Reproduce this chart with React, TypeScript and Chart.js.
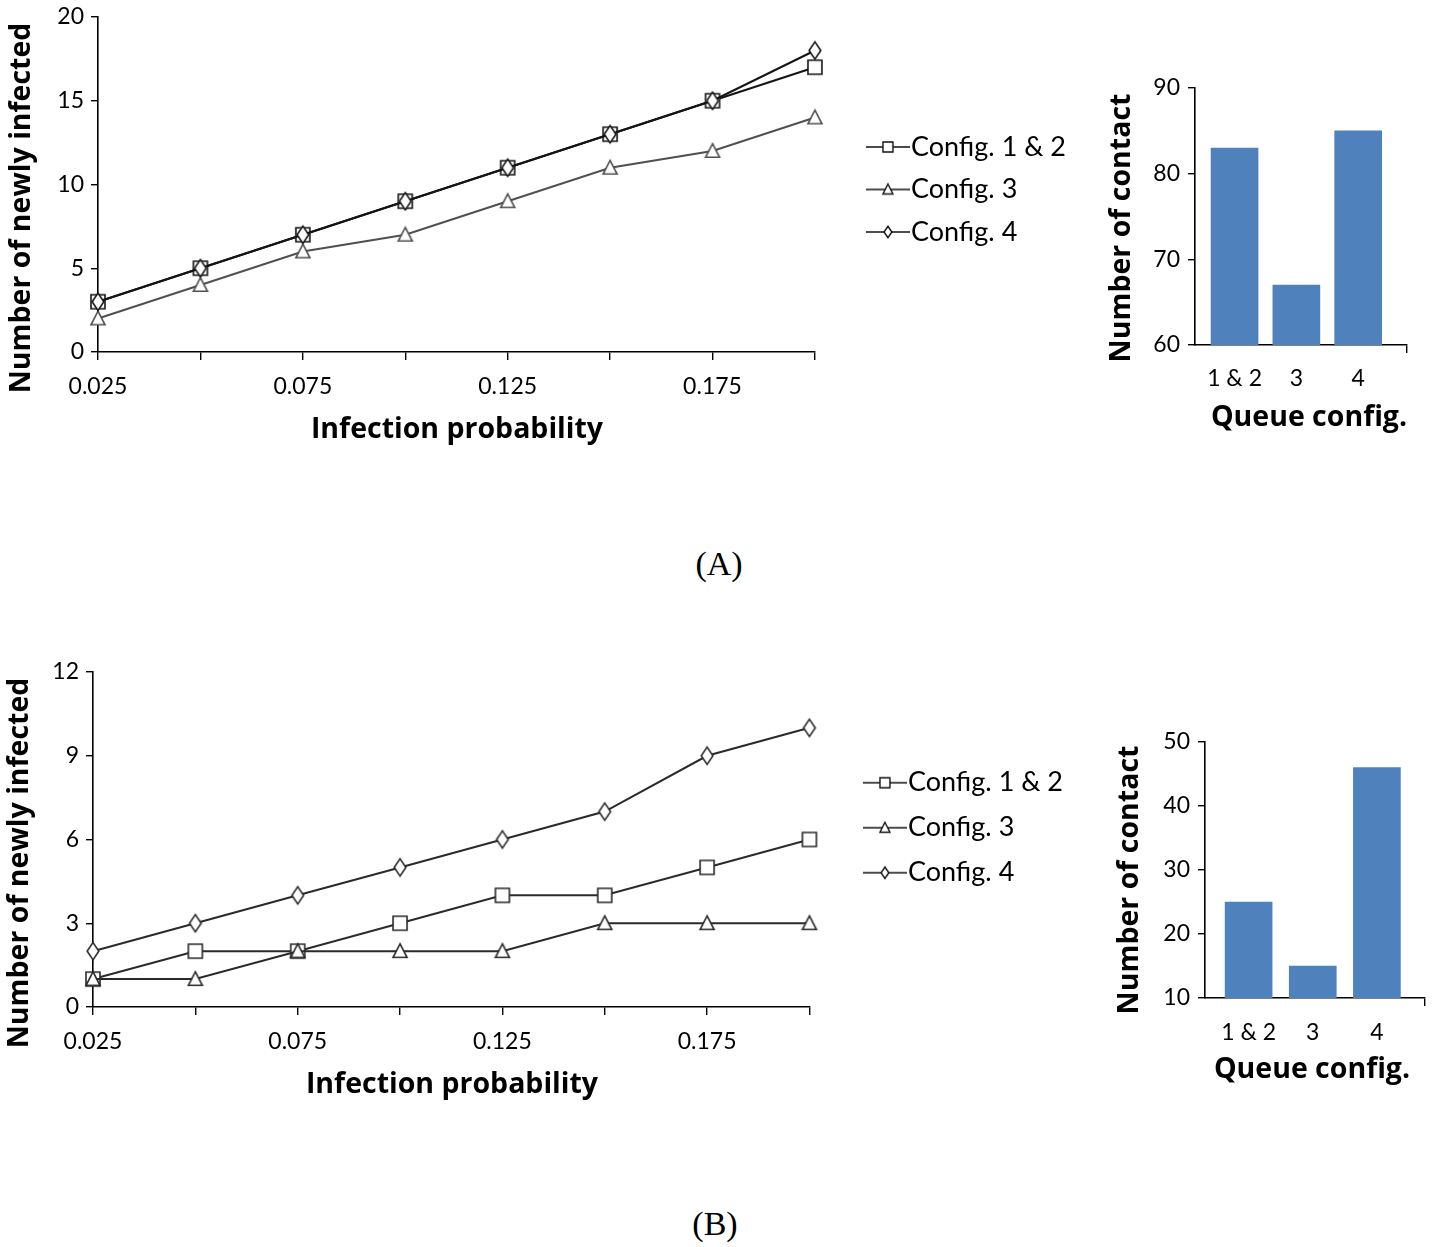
import React, { useEffect, useRef } from 'react';
import { Chart, registerables } from 'chart.js';

Chart.register(...registerables);

// ---------- data ----------
const probabilities = ['0.025', '0.05', '0.075', '0.1', '0.125', '0.15', '0.175', '0.2'];
const seriesNames = ['Config. 1 & 2', 'Config. 3', 'Config. 4'];

const aConfig12 = [3, 5, 7, 9, 11, 13, 15, 17];
const aConfig3 = [2, 4, 6, 7, 9, 11, 12, 14];
const aConfig4 = [3, 5, 7, 9, 11, 13, 15, 18];

const bConfig12 = [1, 2, 2, 3, 4, 4, 5, 6];
const bConfig3 = [1, 1, 2, 2, 2, 3, 3, 3];
const bConfig4 = [2, 3, 4, 5, 6, 7, 9, 10];

const queueConfigs = ['1 & 2', '3', '4'];
const aContacts = [83, 67, 85];
const bContacts = [25, 15, 46];

const yTitleLine = 'Number of newly infected';
const xTitleLine = 'Infection probability';
const yTitleBar = 'Number of contact';
const xTitleBar = 'Queue config.';

// ---------- helpers ----------
type Kind = 'square' | 'triangle' | 'diamond';
const seriesKinds: Kind[] = ['square', 'triangle', 'diamond'];

function drawShape(ctx: CanvasRenderingContext2D, kind: Kind, cx: number, cy: number, s: number, color: string, lw: number) {
  ctx.beginPath();
  if (kind === 'square') {
    ctx.rect(cx - s / 2, cy - s / 2, s, s);
  } else if (kind === 'triangle') {
    const h = s * 0.9;
    ctx.moveTo(cx, cy - h / 2 - 1);
    ctx.lineTo(cx + s / 2, cy + h / 2);
    ctx.lineTo(cx - s / 2, cy + h / 2);
    ctx.closePath();
  } else {
    const w = s * 0.78;
    const h = s * 1.15;
    ctx.moveTo(cx, cy - h / 2);
    ctx.lineTo(cx + w / 2, cy);
    ctx.lineTo(cx, cy + h / 2);
    ctx.lineTo(cx - w / 2, cy);
    ctx.closePath();
  }
  ctx.fillStyle = '#ffffff';
  ctx.fill();
  ctx.strokeStyle = color;
  ctx.lineWidth = lw;
  ctx.stroke();
}

function pointImage(kind: Kind, color: string, s: number) {
  const c = document.createElement('canvas');
  c.width = 24;
  c.height = 24;
  drawShape(c.getContext('2d')!, kind, 12, 12, s, color, 1.6);
  return c;
}

function legendImage(kind: Kind, color: string) {
  const c = document.createElement('canvas');
  c.width = 92;
  c.height = 20;
  const ctx = c.getContext('2d')!;
  ctx.strokeStyle = color;
  ctx.lineWidth = 1.6;
  ctx.beginPath();
  ctx.moveTo(48, 10);
  ctx.lineTo(92, 10);
  ctx.stroke();
  drawShape(ctx, kind, 70, 10, 10, color, 1.4);
  return c;
}

type FreeTitle = { text: string; x: number; y: number; rotate?: boolean; font: string };

function titlePlugin(items: FreeTitle[]) {
  return {
    id: 'freeTitles',
    afterDraw(chart: any) {
      const ctx: CanvasRenderingContext2D = chart.ctx;
      for (const t of items) {
        ctx.save();
        ctx.font = t.font;
        ctx.fillStyle = '#000';
        ctx.textAlign = 'center';
        ctx.textBaseline = 'middle';
        ctx.translate(t.x, t.y);
        if (t.rotate) ctx.rotate(-Math.PI / 2);
        ctx.fillText(t.text, 0, 0);
        ctx.restore();
      }
    },
  };
}

const TICK_FONT = { family: 'Lato', size: 23 };
const TITLE_FONT = 'bold 28.5px "Open Sans"';
const LEGEND_SIZE = 27;
const LEGEND_BOX = 67;

// width Chart.js' legend will want for one column of items
function legendNaturalWidth(padding: number) {
  const ctx = document.createElement('canvas').getContext('2d')!;
  ctx.font = `${LEGEND_SIZE}px Lato`;
  const textW = Math.max(...seriesNames.map((n) => ctx.measureText(n).width));
  return padding + LEGEND_BOX + LEGEND_SIZE / 2 + textW + 10;
}

const noPad = (s: any) => {
  s.paddingTop = 0;
  s.paddingBottom = 0;
  s.paddingLeft = 0;
  s.paddingRight = 0;
};

type LineParams = {
  series: number[][];
  colors: string[];
  yMax: number;
  yStep: number;
  canvasW: number;
  plotRight: number;
  padTop: number;
  xHeight: number;
  yWidth: number;
  xTickPad: number;
  legendTitlePad: number;
  legendPad: number;
  titles: FreeTitle[];
};

function buildLine(canvas: HTMLCanvasElement, p: LineParams) {
  const icons = seriesKinds.map((k) => legendImage(k, '#111'));
  const markerSizes = [14, 14, 15];
  const legendW = Math.ceil(legendNaturalWidth(p.legendPad)) + 1;
  const padRight = p.canvasW - p.plotRight - legendW;
  return new Chart(canvas, {
    type: 'line',
    data: {
      labels: probabilities,
      datasets: p.series.map((d, i) => ({
        label: seriesNames[i],
        data: d,
        order: 2 - i,
        borderColor: p.colors[i],
        backgroundColor: p.colors[i],
        borderWidth: 2,
        fill: false,
        tension: 0,
        pointStyle: pointImage(seriesKinds[i], p.colors[i], markerSizes[i]) as any,
        pointRadius: 7,
        clip: false as any,
      })),
    },
    options: {
      responsive: false,
      animation: false,
      events: [],
      layout: { padding: { left: 0, top: p.padTop, right: padRight, bottom: 0 } },
      plugins: {
        tooltip: { enabled: false },
        legend: {
          position: 'right',
          align: 'start',
          fullSize: false,
          maxWidth: legendW,
          title: { display: true, text: '', font: { size: 1 }, padding: { top: p.legendTitlePad, bottom: 0 } },
          labels: {
            usePointStyle: true,
            pointStyleWidth: LEGEND_BOX,
            padding: p.legendPad,
            color: '#000',
            font: { family: 'Lato', size: LEGEND_SIZE },
            generateLabels: (chart: any) =>
              chart.data.datasets.map((ds: any, i: number) => ({
                text: ds.label,
                pointStyle: icons[i],
                fillStyle: '#fff',
                strokeStyle: '#000',
                lineWidth: 1,
                hidden: false,
                datasetIndex: i,
                fontColor: '#000',
              })),
          },
        } as any,
      },
      scales: {
        x: {
          type: 'category',
          offset: false,
          afterFit: (s: any) => {
            s.height = p.xHeight;
            noPad(s);
          },
          border: { display: true, color: '#000', width: 1.6 },
          grid: { drawOnChartArea: false, drawTicks: true, tickLength: 8, color: '#000', lineWidth: 1.4 },
          ticks: {
            autoSkip: false,
            maxRotation: 0,
            minRotation: 0,
            padding: p.xTickPad,
            color: '#000',
            font: TICK_FONT,
            callback: (_v: any, i: number) => (i % 2 === 0 ? probabilities[i] : ''),
          },
        },
        y: {
          min: 0,
          max: p.yMax,
          afterFit: (s: any) => {
            s.width = p.yWidth;
            noPad(s);
          },
          border: { display: true, color: '#000', width: 1.6 },
          grid: { drawOnChartArea: false, drawTicks: true, tickLength: 7, color: '#000', lineWidth: 1.4 },
          ticks: { stepSize: p.yStep, padding: 7, color: '#000', font: TICK_FONT },
        },
      },
    } as any,
    plugins: [titlePlugin(p.titles)],
  });
}

type BarParams = {
  values: number[];
  yMin: number;
  yMax: number;
  xMin: number;
  xMax: number;
  padTop: number;
  padRight: number;
  xHeight: number;
  yWidth: number;
  barThickness: number;
  xTickPad: number;
  titles: FreeTitle[];
};

function buildBar(canvas: HTMLCanvasElement, p: BarParams) {
  return new Chart(canvas, {
    type: 'bar',
    data: {
      datasets: [
        {
          data: p.values.map((v, i) => ({ x: i, y: v })),
          backgroundColor: '#4F81BD',
          borderWidth: 0,
          barThickness: p.barThickness,
        },
      ],
    },
    options: {
      responsive: false,
      animation: false,
      events: [],
      layout: { padding: { left: 0, top: p.padTop, right: p.padRight, bottom: 0 } },
      plugins: { legend: { display: false }, tooltip: { enabled: false } },
      scales: {
        x: {
          type: 'linear',
          offset: false,
          min: p.xMin,
          max: p.xMax,
          afterBuildTicks: (s: any) => {
            s.ticks = [...queueConfigs.map((_, i) => ({ value: i })), { value: p.xMax }];
          },
          afterFit: (s: any) => {
            s.height = p.xHeight;
            noPad(s);
          },
          border: { display: true, color: '#000', width: 1.6 },
          grid: {
            offset: false,
            drawOnChartArea: false,
            drawTicks: true,
            tickLength: 8,
            lineWidth: 1.4,
            color: (c: any) => (c.index === queueConfigs.length ? '#000' : 'rgba(0,0,0,0)'),
          },
          ticks: {
            padding: p.xTickPad,
            color: '#000',
            font: TICK_FONT,
            maxRotation: 0,
            autoSkip: false,
            callback: (v: any) => (Number.isInteger(v) && queueConfigs[v] !== undefined ? queueConfigs[v] : ''),
          },
        },
        y: {
          min: p.yMin,
          max: p.yMax,
          afterFit: (s: any) => {
            s.width = p.yWidth;
            noPad(s);
          },
          border: { display: true, color: '#000', width: 1.6 },
          grid: { drawOnChartArea: false, drawTicks: true, tickLength: 7, color: '#000', lineWidth: 1.4 },
          ticks: { stepSize: 10, padding: 8, color: '#000', font: TICK_FONT },
        },
      },
    } as any,
    plugins: [titlePlugin(p.titles)],
  });
}

// ---------- component ----------
export default function App() {
  const lineA = useRef<HTMLCanvasElement>(null);
  const barA = useRef<HTMLCanvasElement>(null);
  const lineB = useRef<HTMLCanvasElement>(null);
  const barB = useRef<HTMLCanvasElement>(null);

  useEffect(() => {
    const charts: Chart[] = [];
    charts.push(
      buildLine(lineA.current!, {
        series: [aConfig12, aConfig3, aConfig4],
        colors: ['#141414', '#505050', '#141414'],
        yMax: 20,
        yStep: 5,
        canvasW: 1093,
        plotRight: 813,
        padTop: 17,
        xHeight: 108,
        yWidth: 98,
        xTickPad: 13,
        legendTitlePad: 99.8,
        legendPad: 15.5,
        titles: [
          { text: yTitleLine, x: 22, y: 208, rotate: true, font: TITLE_FONT },
          { text: xTitleLine, x: 457, y: 430, font: TITLE_FONT },
        ],
      })
    );
    charts.push(
      buildBar(barA.current!, {
        values: aContacts,
        yMin: 60,
        yMax: 90,
        xMin: -0.64,
        xMax: 2.79,
        padTop: 28,
        padRight: 25,
        xHeight: 115,
        yWidth: 105,
        barThickness: 47,
        xTickPad: 12,
        titles: [
          { text: yTitleBar, x: 32, y: 168, rotate: true, font: TITLE_FONT },
          { text: xTitleBar, x: 219, y: 358, font: TITLE_FONT },
        ],
      })
    );
    charts.push(
      buildLine(lineB.current!, {
        series: [bConfig12, bConfig3, bConfig4],
        colors: ['#2a2a2a', '#2a2a2a', '#2a2a2a'],
        yMax: 12,
        yStep: 3,
        canvasW: 1088,
        plotRight: 808,
        padTop: 52,
        xHeight: 103,
        yWidth: 93,
        xTickPad: 13,
        legendTitlePad: 78,
        legendPad: 18,
        titles: [
          { text: yTitleLine, x: 20, y: 243, rotate: true, font: TITLE_FONT },
          { text: xTitleLine, x: 452, y: 465, font: TITLE_FONT },
        ],
      })
    );
    charts.push(
      buildBar(barB.current!, {
        values: bContacts,
        yMin: 10,
        yMax: 50,
        xMin: -0.68,
        xMax: 2.75,
        padTop: 32,
        padRight: 7,
        xHeight: 112,
        yWidth: 115,
        barThickness: 47,
        xTickPad: 13,
        titles: [
          { text: yTitleBar, x: 40, y: 170, rotate: true, font: TITLE_FONT },
          { text: xTitleBar, x: 222, y: 360, font: TITLE_FONT },
        ],
      })
    );
    return () => charts.forEach((c) => c.destroy());
  }, []);

  const abs = (left: number, top: number, w: number, h: number): React.CSSProperties => ({
    position: 'absolute',
    left,
    top,
    width: w,
    height: h,
  });

  const panelLabel = (left: number, top: number): React.CSSProperties => ({
    position: 'absolute',
    left,
    top,
    width: 100,
    textAlign: 'center',
    fontFamily: '"Liberation Serif", serif',
    fontSize: 34,
    lineHeight: '40px',
    color: '#000',
  });

  return (
    <div style={{ position: 'absolute', left: 0, top: 0, width: 1432, height: 1247, background: '#fff', overflow: 'hidden' }}>
      <canvas ref={lineA} width={1093} height={460} style={abs(0, 0, 1093, 460)} />
      <canvas ref={barA} width={342} height={400} style={abs(1090, 60, 342, 400)} />
      <canvas ref={lineB} width={1088} height={490} style={abs(0, 620, 1088, 490)} />
      <canvas ref={barB} width={342} height={400} style={abs(1090, 710, 342, 400)} />
      <div style={panelLabel(669, 544)}>(A)</div>
      <div style={panelLabel(665, 1204)}>(B)</div>
    </div>
  );
}
